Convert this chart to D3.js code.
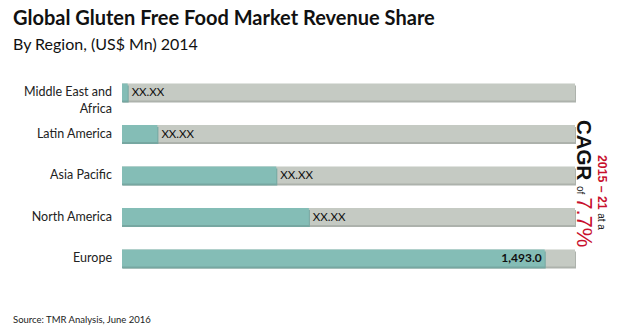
<!DOCTYPE html>
<html><head><meta charset="utf-8">
<script src="https://cdn.jsdelivr.net/npm/d3@7"></script>
<style>body{margin:0;background:#fff}svg{display:block}</style>
</head><body>
<svg id="c" width="620" height="333"></svg>
<script>
const categories = ["Middle East and Africa","Latin America","Asia Pacific","North America","Europe"];
const values = [20, 125, 545, 660, 1493];
const valueLabels = ["XX.XX","XX.XX","XX.XX","XX.XX","1,493.0"];
const axisMax = 1600;
const title = "Global Gluten Free Food Market Revenue Share";
const subtitle = "By Region, (US$ Mn) 2014";
const source = "Source: TMR Analysis, June 2016";

const svg = d3.select("#c");
const font = "Lato, 'Open Sans', sans-serif";

svg.append("text").attr("x",13).attr("y",25).attr("font-family",font).attr("font-weight",700)
  .attr("font-size",20).attr("fill","#111").text(title);
svg.append("text").attr("x",13).attr("y",50).attr("font-family",font)
  .attr("font-size",16).attr("fill","#111").text(subtitle);

const x = d3.scaleLinear().domain([0,axisMax]).range([122,575]);
const y = d3.scaleBand().domain(categories).range([71.25,278.75]).paddingInner(0.59).paddingOuter(0.295);

const rows = svg.append("g").selectAll("g").data(categories).join("g");
rows.append("rect").attr("x",x(0)+1).attr("y",d=>y(d)+2).attr("width",x(axisMax)-x(0))
  .attr("height",y.bandwidth()).attr("fill","#adb2ac");
rows.append("rect").attr("x",x(0)).attr("y",d=>y(d)).attr("width",x(axisMax)-x(0))
  .attr("height",y.bandwidth()).attr("fill","#c5cac3");
rows.append("rect").attr("x",x(0)).attr("y",(d)=>y(d)+2).attr("width",(d,i)=>x(values[i])-x(0)+1)
  .attr("height",y.bandwidth()).attr("fill","#76a7a1");
rows.append("rect").attr("x",x(0)).attr("y",d=>y(d)).attr("width",(d,i)=>x(values[i])-x(0))
  .attr("height",y.bandwidth()).attr("fill","#84bdb6");

rows.append("text")
  .attr("x",(d,i)=> i===categories.length-1 ? x(values[i])-3 : x(values[i])+4)
  .attr("y",d=>y(d)+y.bandwidth()/2+4)
  .attr("text-anchor",(d,i)=> i===categories.length-1 ? "end" : "start")
  .attr("font-family",font).attr("font-size",(d,i)=> i===categories.length-1 ? 12 : 11.5)
  .attr("font-weight",(d,i)=> i===categories.length-1 ? 700 : 400)
  .attr("fill","#111").text((d,i)=>valueLabels[i]);

const yAxis = d3.axisLeft(y).tickSize(0).tickPadding(10);
const ag = svg.append("g").attr("transform",`translate(${x(0)},0)`).call(yAxis);
ag.select(".domain").remove();
ag.selectAll("text").attr("font-family",font).attr("font-size",12.5).attr("fill","#222");
ag.selectAll(".tick text").each(function(d){
  if(d==="Middle East and Africa"){
    const t = d3.select(this); t.text(null);
    t.append("tspan").attr("x",-10).attr("dy","0.32em").attr("y",0).text("Middle East and");
    t.append("tspan").attr("x",-10).attr("dy","1.35em").text("Africa");
  }
});

const red = "#c8102e";
const ann = svg.append("g").attr("transform","rotate(90)").attr("font-family","'Liberation Sans', Arial, sans-serif");
const l1 = ann.append("text").attr("x",155).attr("y",-598).attr("font-weight",700);
l1.append("tspan").attr("font-size",12.3).attr("fill",red).text("2015 – 21 ");
l1.append("tspan").attr("font-size",10).attr("font-weight",400).attr("fill","#111").text("at a");
const l2 = ann.append("text").attr("x",120).attr("y",-577).attr("font-weight",700);
l2.append("tspan").attr("font-size",20.5).attr("fill","#111").text("CAGR ");
l2.append("tspan").attr("font-size",10).attr("font-weight",400).attr("fill","#111").text("of ");
l2.append("tspan").attr("font-size",22).attr("font-weight",400).attr("fill",red).text("7.7%");

svg.append("text").attr("x",13).attr("y",323).attr("font-family",font)
  .attr("font-size",9.5).attr("fill","#222").text(source);
</script>
</body></html>
